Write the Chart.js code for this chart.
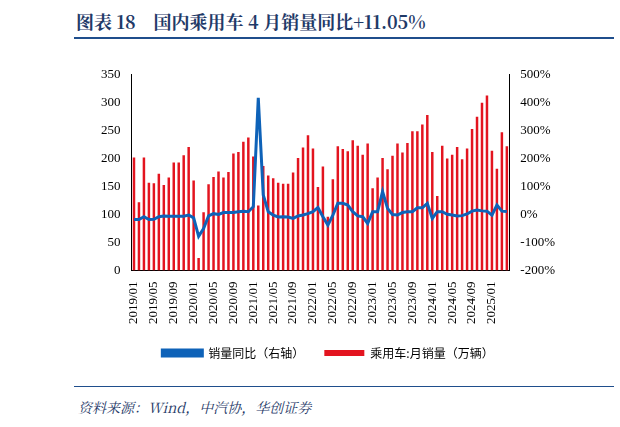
<!DOCTYPE html><html><head><meta charset="utf-8">
<script src="https://cdn.jsdelivr.net/npm/chart.js@4"></script>
<style>
body{margin:0;width:620px;height:427px;background:#fff;position:relative;font-family:"Noto Serif CJK SC","Noto Sans CJK SC",serif;overflow:hidden}
#t{position:absolute;left:76px;top:8px;font-size:18px;font-weight:bold;color:#1f3a68;white-space:nowrap}
#l1{position:absolute;left:74px;top:37px;width:540px;height:2px;background:#1f4e8c}
#l2{position:absolute;left:74px;top:386px;width:540px;height:1px;background:#1f4e8c}
#s{position:absolute;left:78px;top:397px;font-size:14px;font-style:italic;color:#1f3a68}
#c{position:absolute;left:98px;top:64px;width:460px;height:305px}
</style></head><body>
<div id="t">图表 18&nbsp;&nbsp;&nbsp;&nbsp;国内乘用车 4 月销量同比+11.05%</div>
<div id="l1"></div><div id="l2"></div>
<div id="s">资料来源：Wind，中汽协，华创证券</div>
<div id="c"><canvas id="cv"></canvas></div>
<script>
const months=[];for(let y=2019;y<=2025;y++)for(let m=1;m<=12;m++){if(y==2025&&m>4)break;months.push(y+'/'+String(m).padStart(2,'0'));}
const sales=[202,122,202,157,156,173,153,166,193,193,206,221,
161,22,104,154,167,177,166,176,209,212,230,238,
204,116,187,170,165,157,155,155,175,201,220,242,
218,149,186,96,163,222,217,213,233,223,207,227,
147,166,201,181,205,227,211,228,249,249,261,278,
212,133,223,200,207,221,199,218,253,275,300,313,
214,182,247,222];
const yoy=[-18,-18,-8,-18,-17,-8,-5,-6,-6,-6,-6,-2,
-12,-78,-50,-5,3,0,7,7,7,10,12,10,
28,418,70,10,-2,-9,-8,-9,-14,-5,-2,3,
10,25,-8,-38,-2,40,40,34,10,-5,-8,-32,
10,10,82,22,0,-2,7,10,10,24,24,40,
-14,10,10,1,-2,-5,-4,2,12,16,13,12,
-2,34,12,11.05];
new Chart(document.getElementById('cv'),{data:{labels:months,datasets:[
{type:'bar',label:'乘用车:月销量（万辆）',data:sales,yAxisID:'y',backgroundColor:'#e3141f',barPercentage:0.5,categoryPercentage:1,order:1},
{type:'line',label:'销量同比（右轴）',data:yoy,yAxisID:'y1',borderColor:'#0e62b8',backgroundColor:'#0e62b8',borderWidth:3,pointRadius:0,tension:0,order:0}]},
options:{responsive:true,maintainAspectRatio:false,animation:false,
layout:{padding:{left:0,right:0,top:4}},
plugins:{legend:{position:'bottom',labels:{boxWidth:40,boxHeight:6,color:'#000',font:{size:12,family:'Noto Sans CJK SC'},padding:20}},tooltip:{enabled:false}},
scales:{x:{grid:{display:false,drawTicks:true},border:{color:'#000'},ticks:{autoSkip:false,maxRotation:90,minRotation:90,color:'#000',font:{size:13,family:'Liberation Serif'},callback:(v,i)=>i%4==0?months[i]:''}},
y:{min:0,max:350,position:'left',ticks:{stepSize:50,color:'#000',font:{size:13,family:'Liberation Serif'}},grid:{display:false},border:{color:'#000'}},
y1:{min:-200,max:500,position:'right',ticks:{stepSize:100,color:'#000',font:{size:13,family:'Liberation Serif'},callback:v=>v+'%'},grid:{display:false},border:{color:'#000'}}}}});
</script></body></html>
